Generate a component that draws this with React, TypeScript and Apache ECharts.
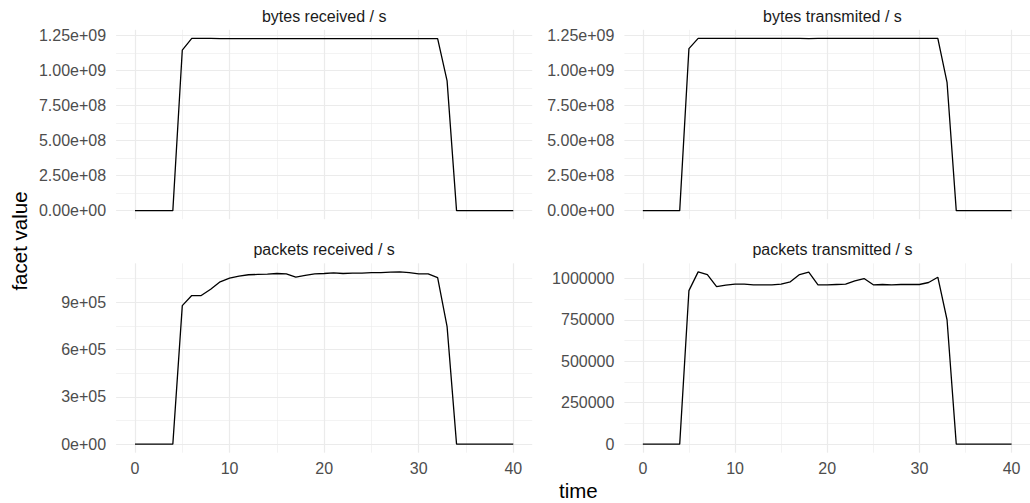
import React, { useEffect, useRef } from "react";
import * as echarts from "echarts";

const time = [0, 1, 2, 3, 4, 5, 6, 7, 8, 9, 10, 11, 12, 13, 14, 15, 16, 17, 18, 19, 20, 21, 22, 23, 24, 25, 26, 27, 28, 29, 30, 31, 32, 33, 34, 35, 36, 37, 38, 39, 40];

const bytesReceived = [0, 0, 0, 0, 0, 1.146e9, 1.229e9, 1.229e9, 1.229e9, 1.228e9, 1.228e9, 1.228e9, 1.228e9, 1.228e9, 1.228e9, 1.228e9, 1.228e9, 1.228e9, 1.228e9, 1.228e9, 1.228e9, 1.228e9, 1.228e9, 1.228e9, 1.228e9, 1.228e9, 1.228e9, 1.228e9, 1.228e9, 1.228e9, 1.228e9, 1.228e9, 1.228e9, 0.926e9, 0, 0, 0, 0, 0, 0, 0];

const bytesTransmitted = [0, 0, 0, 0, 0, 1.155e9, 1.228e9, 1.228e9, 1.228e9, 1.228e9, 1.228e9, 1.228e9, 1.228e9, 1.228e9, 1.228e9, 1.228e9, 1.228e9, 1.228e9, 1.227e9, 1.228e9, 1.228e9, 1.228e9, 1.228e9, 1.228e9, 1.228e9, 1.228e9, 1.228e9, 1.228e9, 1.228e9, 1.228e9, 1.228e9, 1.228e9, 1.228e9, 0.915e9, 0, 0, 0, 0, 0, 0, 0];

const packetsReceived = [0, 0, 0, 0, 0, 878000, 942000, 942000, 982000, 1029000, 1052000, 1065000, 1074000, 1076000, 1078000, 1082000, 1080000, 1059000, 1070000, 1080000, 1082000, 1086000, 1082000, 1084000, 1084000, 1088000, 1088000, 1090000, 1092000, 1088000, 1080000, 1080000, 1056000, 745000, 0, 0, 0, 0, 0, 0, 0];

const packetsTransmitted = [0, 0, 0, 0, 0, 927000, 1040000, 1024000, 951000, 960000, 966000, 966000, 962000, 962000, 962000, 966000, 980000, 1024000, 1038000, 962000, 962000, 964000, 966000, 986000, 1000000, 962000, 964000, 962000, 964000, 964000, 964000, 976000, 1008000, 751000, 0, 0, 0, 0, 0, 0, 0];

const panelTitles = ["bytes received / s", "bytes transmited / s", "packets received / s", "packets transmitted / s"];

const timeTicks = [0, 10, 20, 30, 40];
const timeMinorTicks = [5, 15, 25, 35];
const bytesTicks = [0, 2.5e8, 5e8, 7.5e8, 1e9, 1.25e9];
const bytesMinorTicks = [1.25e8, 3.75e8, 6.25e8, 8.75e8, 1.125e9];
const packetsRecTicks = [0, 3e5, 6e5, 9e5];
const packetsRecMinorTicks = [1.5e5, 4.5e5, 7.5e5, 1.05e6];
const packetsTxTicks = [0, 250000, 500000, 750000, 1000000];
const packetsTxMinorTicks = [125000, 375000, 625000, 875000];

const FONT = "'Liberation Sans', Arial, Helvetica, sans-serif";

function sci(v: number, digits: number): string {
  if (v === 0) return (0).toFixed(digits) + "e+00";
  const exp = Math.floor(Math.log10(Math.abs(v)) + 1e-9);
  const mant = v / Math.pow(10, exp);
  const e = Math.abs(exp);
  return mant.toFixed(digits) + "e" + (exp >= 0 ? "+" : "-") + (e < 10 ? "0" + e : String(e));
}

export default function App() {
  const ref = useRef<HTMLDivElement>(null);

  useEffect(() => {
    if (!ref.current) return;
    const chart = echarts.init(ref.current, null, { renderer: "svg" });

    const gridLeft = [116.1, 624.4];
    const gridWidth = 416.1;
    const gridTop = [29.8, 263.3];
    const gridHeight = 189.4;

    const panels = [
      { values: bytesReceived, ticks: bytesTicks, minor: bytesMinorTicks, fmt: (v: number) => sci(v, 2) },
      { values: bytesTransmitted, ticks: bytesTicks, minor: bytesMinorTicks, fmt: (v: number) => sci(v, 2) },
      { values: packetsReceived, ticks: packetsRecTicks, minor: packetsRecMinorTicks, fmt: (v: number) => sci(v, 0) },
      { values: packetsTransmitted, ticks: packetsTxTicks, minor: packetsTxMinorTicks, fmt: (v: number) => String(v) },
    ];

    const grids: any[] = [];
    const xAxes: any[] = [];
    const yAxes: any[] = [];
    const series: any[] = [];
    const graphics: any[] = [];

    panels.forEach((p, i) => {
      const col = i % 2;
      const row = Math.floor(i / 2);
      grids.push({
        left: gridLeft[col],
        top: gridTop[row],
        width: gridWidth,
        height: gridHeight,
        containLabel: false,
      });
      const dataMax = Math.max(...p.values);
      const yMin = -0.05 * dataMax;
      const yMax = 1.05 * dataMax;

      // minor x
      xAxes.push({
        type: "value",
        gridIndex: i,
        position: "bottom",
        min: -2,
        max: 42,
        axisLine: { show: false, onZero: false },
        axisTick: { show: false, customValues: timeMinorTicks },
        axisLabel: { show: false },
        splitLine: { show: true, lineStyle: { color: "#EBEBEB", width: 0.6 } },
      });
      // major x
      xAxes.push({
        type: "value",
        gridIndex: i,
        position: "bottom",
        min: -2,
        max: 42,
        axisLine: { show: false, onZero: false },
        axisTick: { show: false, customValues: timeTicks },
        axisLabel: {
          show: row === 1,
          customValues: timeTicks,
          color: "#4D4D4D",
          fontSize: 16,
          fontFamily: FONT,
          margin: 8,
        },
        splitLine: { show: true, lineStyle: { color: "#EBEBEB", width: 1.2 } },
      });
      // minor y
      yAxes.push({
        type: "value",
        gridIndex: i,
        position: "left",
        min: yMin,
        max: yMax,
        axisLine: { show: false, onZero: false },
        axisTick: { show: false, customValues: p.minor },
        axisLabel: { show: false },
        splitLine: { show: true, lineStyle: { color: "#EBEBEB", width: 0.6 } },
      });
      // major y
      yAxes.push({
        type: "value",
        gridIndex: i,
        position: "left",
        min: yMin,
        max: yMax,
        axisLine: { show: false, onZero: false },
        axisTick: { show: false, customValues: p.ticks },
        axisLabel: {
          show: true,
          customValues: p.ticks,
          formatter: p.fmt,
          color: "#4D4D4D",
          fontSize: 16,
          fontFamily: FONT,
          margin: 10,
        },
        splitLine: { show: true, lineStyle: { color: "#EBEBEB", width: 1.2 } },
      });

      series.push({
        type: "line",
        xAxisIndex: 2 * i + 1,
        yAxisIndex: 2 * i + 1,
        data: time.map((t, k) => [t, p.values[k]]),
        showSymbol: false,
        symbol: "none",
        lineStyle: { color: "#000000", width: 1.3 },
        silent: true,
        z: 5,
      });

      graphics.push({
        type: "text",
        x: gridLeft[col] + gridWidth / 2,
        y: row === 0 ? 16 : 249.5,
        style: {
          text: panelTitles[i],
          textAlign: "center",
          textVerticalAlign: "middle",
          fontSize: 16,
          fontFamily: FONT,
          fill: "#1A1A1A",
        },
      });
    });

    graphics.push({
      type: "text",
      x: 578.3,
      y: 490,
      style: {
        text: "time",
        textAlign: "center",
        textVerticalAlign: "middle",
        fontSize: 20.5,
        fontFamily: FONT,
        fill: "#000000",
      },
    });
    graphics.push({
      type: "text",
      x: 19,
      y: 241,
      rotation: Math.PI / 2,
      style: {
        text: "facet value",
        textAlign: "center",
        textVerticalAlign: "middle",
        fontSize: 20.5,
        fontFamily: FONT,
        fill: "#000000",
      },
    });

    chart.setOption({
      animation: false,
      backgroundColor: "#FFFFFF",
      grid: grids,
      xAxis: xAxes,
      yAxis: yAxes,
      series,
      graphic: graphics,
    });

    return () => {
      chart.dispose();
    };
  }, []);

  return (
    <div
      ref={ref}
      style={{ position: "fixed", left: 0, top: 0, width: 1030, height: 503 }}
    />
  );
}
